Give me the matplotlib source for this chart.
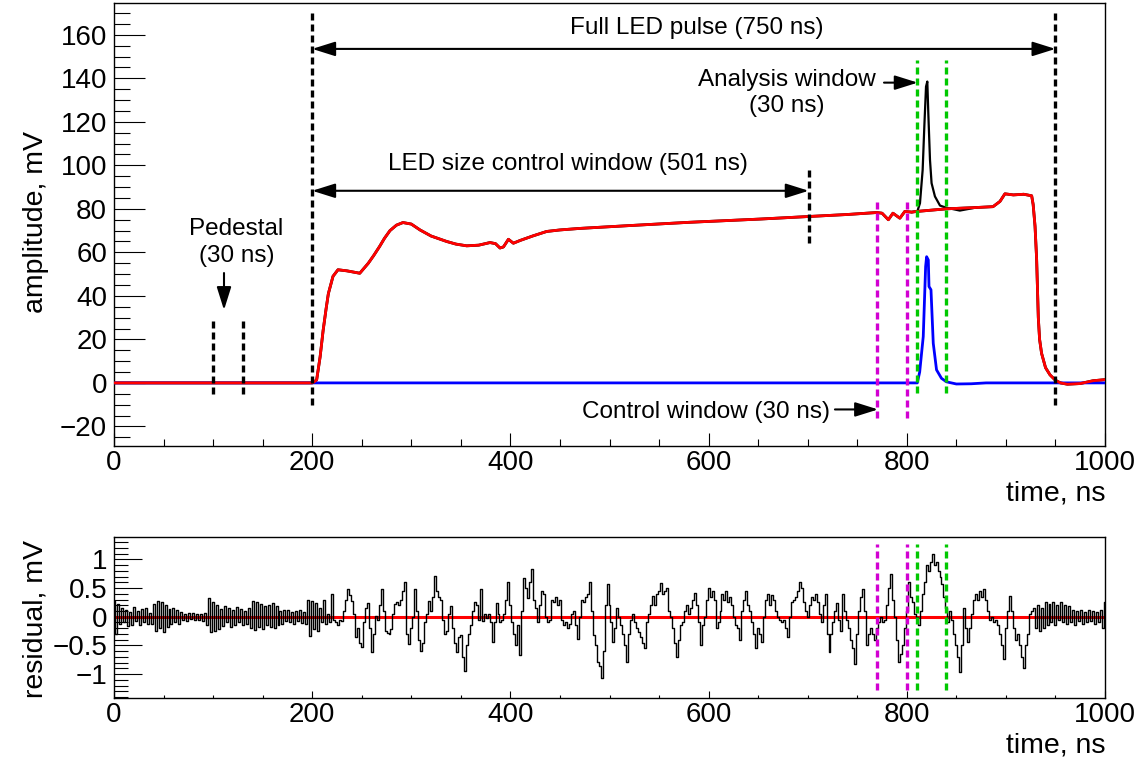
import numpy as np
import matplotlib
matplotlib.use('Agg')
import matplotlib.pyplot as plt
from matplotlib.ticker import MultipleLocator, FuncFormatter

plt.rcParams['font.family'] = ['Liberation Sans', 'DejaVu Sans']

# ---------------- data ----------------
# LED fit (red) and measured waveform baseline (black underneath)
led_t = [0, 200, 202, 204.5, 208, 211, 214, 216.3, 221, 226, 235, 248, 256.6, 262, 268,
         273, 278.5, 285, 291.6, 300, 308.8, 320, 335.7, 345, 355.9, 368, 379.4, 385,
         389.5, 393, 398, 403, 410, 423, 436.6, 450, 470, 520, 580, 652, 702, 740,
         769.6, 775, 781.4, 786, 793, 798, 805, 810, 840, 870, 887, 894, 899, 907.5,
         918, 926, 927.5, 929.4, 931, 932.7, 934, 936, 940, 944.5, 950, 955, 962, 975,
         988, 1000]
led_amp = [0, 0, 0.5, 1.4, 12, 24, 34, 41, 49, 52, 51.5, 50.4, 55, 58.5, 62.7,
           66.5, 70, 72.5, 73.7, 73, 70.3, 67.5, 65, 63.8, 63, 63.3, 64.5, 64,
           62, 62.5, 66, 64.2, 65.5, 67.6, 69.6, 70.3, 71, 72.3, 73.8, 75.3, 76.5, 77.4,
           78.3, 78.0, 75, 78, 75.7, 78.8, 78.5, 78.8, 80, 80.6, 81, 83.4, 86.9, 86.4,
           86.7, 86, 82, 72, 57, 30, 20, 13.6, 7, 3.7, 1.2, 0, -0.6, -0.3,
           1.0, 1.5]

# measured waveform around the SiPM pulse (black)
peak_t = [805, 810.6, 813.3, 816, 817.7, 819.4, 820.7, 821.7, 823.4, 825, 828.4, 833.5,
          840, 853.5, 870]
peak_amp = [78.5, 78.8, 82.6, 97.9, 118, 136.2, 138.5, 124, 102.5, 91.8, 85.7, 81.5,
            80.5, 79.2, 80.6]

# waveform minus LED fit (blue)
pulse_t = [0, 810.6, 813, 816.6, 819, 820, 821.7, 822.4, 824.4, 826.7, 830, 835, 840,
           850, 865, 880, 1000]
pulse_amp = [0, 0, 5, 21.3, 53.5, 58, 56.5, 44.3, 42.8, 18.2, 6, 2.1, 0.5,
             -0.5, -0.4, 0, 0]

# residual, one value per 2 ns bin starting at t = 0
residual = [
    0.28, -0.3, 0.22, -0.12, 0.15, -0.1, 0.12, -0.16, 0.08, -0.14, 0.17, -0.08, 0.1, -0.15, 0.13, -0.09, 0.16, -0.12, 0.07, -0.13, 0.22, -0.24, 0.27, -0.2, 0.25,
    -0.26, 0.2, -0.17, 0.14, -0.12, 0.16, -0.1, 0.11, -0.13, 0.08, -0.06, 0.05, -0.07, 0.06, -0.04, 0.07, -0.05, 0.04, -0.06, 0.05, -0.08, 0.06, -0.15, 0.33, -0.27,
    0.25, -0.25, 0.2, -0.22, 0.14, -0.16, 0.18, -0.1, 0.15, -0.17, 0.12, -0.14, 0.17, -0.09, 0.13, -0.15, 0.1, -0.12, 0.16, -0.2, 0.27, -0.23, 0.25, -0.18, 0.22,
    -0.21, 0.19, -0.15, 0.2, -0.18, 0.24, -0.2, 0.18, -0.14, 0.1, -0.12, 0.11, -0.08, 0.12, -0.1, 0.09, -0.13, 0.1, -0.07, 0.12, -0.11, 0.08, -0.12, 0.3, -0.33,
    0.27, -0.22, 0.24, -0.25, 0.15, -0.1, 0.3, -0.12, 0.05, -0.1, 0.39, -0.05, -0.1, -0.15, -0.05, -0.08, 0.1, 0.3, 0.48, 0.38, 0.27, 0.05, -0.35, -0.2, -0.45,
    -0.52, -0.1, 0.15, 0.24, -0.2, -0.61, -0.3, 0.02, -0.05, 0.2, 0.48, 0.1, -0.25, -0.28, -0.3, -0.22, 0.05, 0.22, 0.25, 0.2, 0.3, 0.45, 0.6, -0.3, -0.47,
    -0.2, 0.0, 0.48, 0.1, -0.4, -0.6, -0.45, -0.1, 0.05, 0.27, 0.1, 0.35, 0.71, 0.45, 0.35, 0.3, -0.05, -0.3, -0.25, 0.05, 0.18, -0.2, -0.45, -0.61, -0.35,
    -0.32, -0.7, -0.94, -0.5, -0.3, -0.15, 0.1, 0.25, 0.2, -0.05, 0.48, -0.08, 0.05, -0.02, 0.05, -0.1, -0.44, -0.1, 0.24, 0.05, -0.1, -0.05, 0.05, 0.3, 0.6,
    0.2, -0.1, -0.3, -0.5, -0.15, -0.67, 0.1, 0.68, 0.5, 0.33, 0.6, 0.83, 0.3, 0.15, -0.1, 0.2, 0.45, 0.4, 0.0, -0.1, -0.05, 0.3, 0.25, 0.35, 0.2,
    0.3, -0.05, -0.15, -0.1, -0.2, -0.12, 0.05, 0.1, -0.15, -0.38, 0.0, 0.3, 0.25, 0.35, 0.4, 0.6, 0.1, -0.32, -0.5, -0.79, -0.85, -1.06, -0.6, 0.2, 0.57,
    0.2, -0.1, -0.44, -0.2, 0.15, 0.0, -0.15, -0.3, -0.5, -0.79, -0.3, -0.05, 0.05, -0.1, -0.2, -0.26, -0.35, -0.45, -0.55, -0.1, 0.05, 0.2, 0.36, 0.2, 0.4,
    0.45, 0.58, 0.4, 0.45, 0.5, 0.1, 0.0, -0.2, -0.45, -0.7, -0.4, -0.15, -0.1, 0.1, 0.2, 0.05, 0.15, 0.3, 0.42, 0.2, -0.1, -0.5, -0.15, 0.0, 0.3,
    0.5, 0.35, 0.45, 0.3, -0.2, -0.1, 0.1, 0.4, 0.3, 0.45, 0.25, 0.35, 0.2, 0.0, -0.15, -0.2, -0.4, 0.1, 0.3, 0.45, 0.2, 0.1, -0.1, -0.3, -0.55,
    -0.2, -0.3, -0.44, 0.0, 0.3, 0.4, 0.2, 0.38, 0.3, 0.1, 0.0, -0.05, -0.1, -0.05, -0.2, -0.35, 0.0, 0.25, 0.3, 0.35, 0.45, 0.6, 0.5, 0.25, 0.1,
    0.0, 0.2, 0.35, 0.3, 0.4, 0.25, 0.05, -0.1, 0.2, 0.39, -0.3, -0.61, -0.3, -0.1, 0.1, 0.24, -0.05, -0.25, 0.39, 0.1, -0.05, -0.2, -0.4, -0.55, -0.82,
    -0.3, 0.1, 0.35, 0.48, 0.1, -0.5, -0.3, -0.2, -0.3, -0.4, -0.2, -0.1, 0.0, -0.1, -0.05, 0.2, 0.5, 0.74, 0.3, 0.0, -0.4, -0.79, -0.65, -0.5, -0.2,
    0.1, 0.6, 0.35, 0.25, 0.05, 0.0, -0.15, 0.1, 0.39, 0.6, 0.9, 0.8, 0.95, 1.1, 0.9, 0.95, 0.8, 0.7, 0.57, 0.35, 0.15, -0.1, 0.1, -0.05, -0.3,
    -0.5, -0.7, -0.97, -0.5, 0.15, -0.2, -0.44, -0.2, 0.05, 0.3, 0.4, 0.3, 0.45, 0.35, 0.48, 0.3, 0.1, -0.05, 0.0, -0.1, -0.05, -0.15, -0.3, -0.5, -0.73,
    -0.2, 0.1, 0.36, 0.1, -0.2, -0.4, -0.3, -0.5, -0.7, -0.9, -0.5, -0.3, 0.05, 0.1, 0.15, -0.2, 0.2, -0.25, 0.15, -0.2, 0.25, -0.15, 0.22, -0.1, 0.25,
    -0.15, 0.2, -0.05, 0.25, -0.1, 0.2, -0.12, 0.18, -0.1, 0.12, -0.15, 0.1, -0.08, 0.12, -0.12, 0.08, -0.1, 0.12, -0.07, 0.1, -0.12, 0.08, -0.1, 0.12, -0.2,
    0.25,
]

x_ticks = [0, 200, 400, 600, 800, 1000]
amp_ticks = [-20, 0, 20, 40, 60, 80, 100, 120, 140, 160]
res_ticks = [-1, -0.5, 0, 0.5, 1]

# ---------------- figure ----------------
W, H = 1145, 764
fig = plt.figure(figsize=(W / 100, H / 100), dpi=100)
ax1 = fig.add_axes([114 / W, 1 - 446 / H, 991 / W, 443 / H])
ax2 = fig.add_axes([114 / W, 1 - 698 / H, 991 / W, 161 / H])

MAG = '#d200d2'
GRN = '#00c800'
FS_TICK = 20
FS_ANN = 17.5


def vdash(ax, x, y0, y1, color):
    ax.plot([x, x], [y0, y1], color=color, lw=2.4, dashes=(2.1, 1.2),
            dash_capstyle='butt', zorder=5)


def fmt(v, pos):
    s = '%g' % v
    return s.replace('-', '\u2212')


# ---- top panel ----
ax1.plot(led_t, led_amp, color='black', lw=2.0, zorder=2)
ax1.plot(peak_t, peak_amp, color='black', lw=1.6, zorder=2)
ax1.plot(pulse_t, pulse_amp, color='#0000ff', lw=2.0, zorder=3)
ax1.plot(led_t, led_amp, color='#ff0000', lw=2.0, zorder=4)

for x in (100, 130):
    vdash(ax1, x, -5, 30, 'black')
for x in (200, 950):
    vdash(ax1, x, -10, 170.5, 'black')
vdash(ax1, 701, 64.4, 99.3, 'black')
for x in (770, 800):
    vdash(ax1, x, -16, 83, MAG)
for x in (810, 840):
    vdash(ax1, x, -4.6, 148.5, GRN)

arrow2 = dict(arrowstyle='<|-|>,head_length=0.7,head_width=0.22', color='black',
              lw=1.5, shrinkA=0, shrinkB=0, mutation_scale=20)
arrow1 = dict(arrowstyle='-|>,head_length=0.7,head_width=0.22', color='black',
              lw=1.5, shrinkA=0, shrinkB=0, mutation_scale=20)

ax1.annotate('', xy=(950, 153.5), xytext=(200, 153.5), arrowprops=arrow2, zorder=6)
ax1.text(588, 160.5, 'Full LED pulse (750 ns)', ha='center', va='baseline', fontsize=FS_ANN)
ax1.annotate('', xy=(701, 88.3), xytext=(200, 88.3), arrowprops=arrow2, zorder=6)
ax1.text(458, 98, 'LED size control window (501 ns)', ha='center', va='baseline', fontsize=FS_ANN)
ax1.text(123.5, 68, 'Pedestal', ha='center', va='baseline', fontsize=FS_ANN)
ax1.text(123.5, 55.6, '(30 ns)', ha='center', va='baseline', fontsize=FS_ANN)
ax1.annotate('', xy=(111, 33.5), xytext=(111, 50.5), arrowprops=arrow1)
ax1.text(679, 136.5, 'Analysis window', ha='center', va='baseline', fontsize=FS_ANN)
ax1.text(679, 124.6, '(30 ns)', ha='center', va='baseline', fontsize=FS_ANN)
ax1.annotate('', xy=(811, 138), xytext=(777, 138), arrowprops=arrow1)
ax1.text(597.4, -16, 'Control window (30 ns)', ha='center', va='baseline', fontsize=FS_ANN)
ax1.annotate('', xy=(771, -12.2), xytext=(727.5, -12.2), arrowprops=arrow1)

ax1.set_xlim(0, 1000)
ax1.set_ylim(-29, 174.6)

# ---- bottom panel ----
res_t = np.arange(len(residual)) * 2
ax2.axhline(0, color='#ff0000', lw=2.2, zorder=2)
ax2.step(res_t, residual, where='mid', color='black', lw=1.0, zorder=3)
for x in (770, 800):
    vdash(ax2, x, -1.28, 1.26, MAG)
for x in (810, 840):
    vdash(ax2, x, -1.28, 1.26, GRN)
ax2.set_xlim(0, 1000)
ax2.set_ylim(-1.416, 1.39)

# ---- axes styling ----
for ax in (ax1, ax2):
    for sp in ax.spines.values():
        sp.set_linewidth(1.0)
    ax.set_xticks(x_ticks)
    ax.xaxis.set_minor_locator(MultipleLocator(50))
    ax.tick_params(which='both', direction='in', top=False, right=False,
                   labelsize=FS_TICK, width=0.8)
    ax.yaxis.set_major_formatter(FuncFormatter(fmt))

ax1.set_yticks(amp_ticks)
ax1.yaxis.set_minor_locator(MultipleLocator(5))
ax1.tick_params(axis='y', which='major', length=22, pad=5)
ax1.tick_params(axis='y', which='minor', length=11.5)
ax1.tick_params(axis='x', which='major', length=9.5, pad=3)
ax1.tick_params(axis='x', which='minor', length=5)

ax2.set_yticks(res_ticks)
ax2.yaxis.set_minor_locator(MultipleLocator(0.1))
ax2.tick_params(axis='y', which='major', length=20, pad=5)
ax2.tick_params(axis='y', which='minor', length=10)
ax2.tick_params(axis='x', which='major', length=5, pad=3)
ax2.tick_params(axis='x', which='minor', length=2.5)

fig.text(36 / W, 1 - 222 / H, 'amplitude, mV', rotation=90, ha='center', va='center', fontsize=20.5)
fig.text(36 / W, 1 - 619 / H, 'residual, mV', rotation=90, ha='center', va='center', fontsize=20.5)
fig.text(1105 / W, 1 - 501 / H, 'time, ns', ha='right', va='baseline', fontsize=20.5)
fig.text(1105 / W, 1 - 753 / H, 'time, ns', ha='right', va='baseline', fontsize=20.5)

fig.savefig('out.png', dpi=100)
